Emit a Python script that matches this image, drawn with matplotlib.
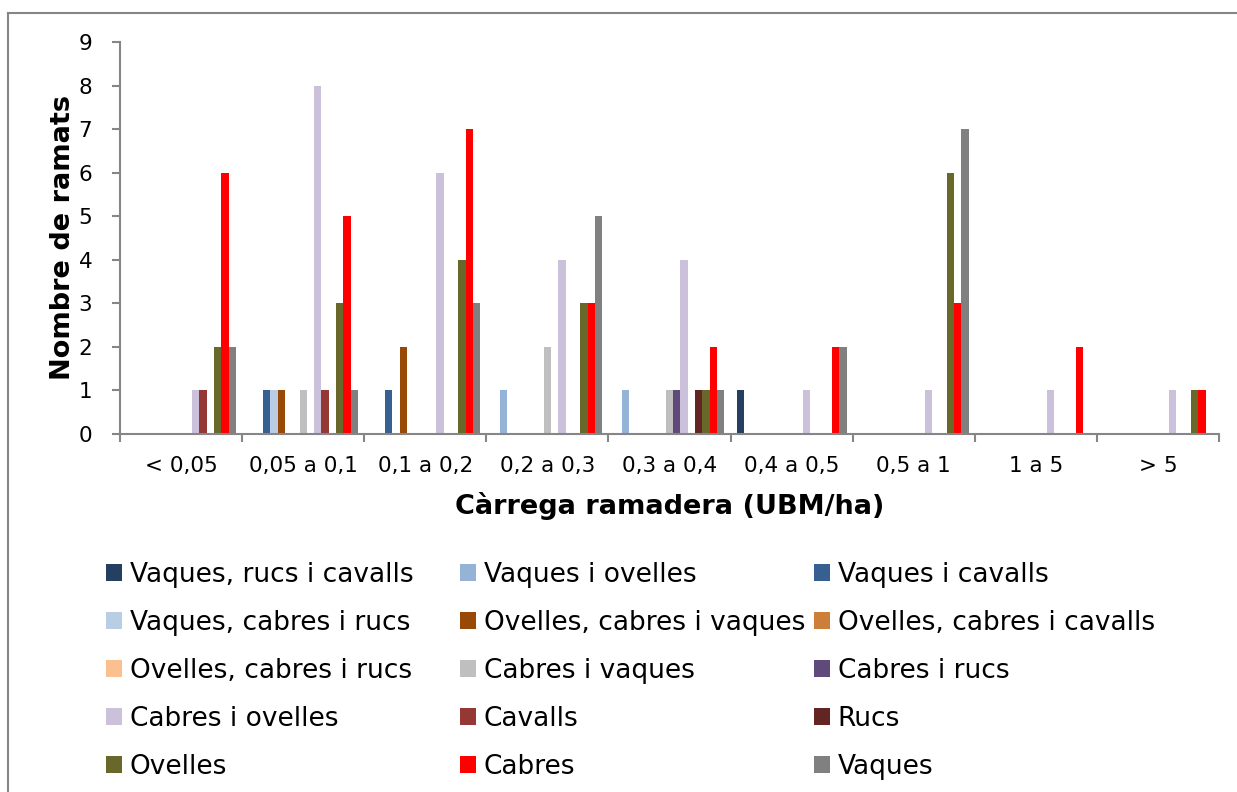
import numpy as np
import matplotlib
matplotlib.use("Agg")
import matplotlib.pyplot as plt
from matplotlib.patches import Patch
from matplotlib.lines import Line2D

# categories (UBM/ha classes)
categories = ["< 0,05", "0,05 a 0,1", "0,1 a 0,2", "0,2 a 0,3", "0,3 a 0,4",
              "0,4 a 0,5", "0,5 a 1", "1 a 5", "> 5"]

series_names = ["Vaques, rucs i cavalls", "Vaques i ovelles", "Vaques i cavalls",
                "Vaques, cabres i rucs", "Ovelles, cabres i vaques", "Ovelles, cabres i cavalls",
                "Ovelles, cabres i rucs", "Cabres i vaques", "Cabres i rucs",
                "Cabres i ovelles", "Cavalls", "Rucs",
                "Ovelles", "Cabres", "Vaques"]

# values per series, one per category
vaques_rucs_cavalls  = [0, 0, 0, 0, 0, 1, 0, 0, 0]
vaques_ovelles       = [0, 0, 0, 1, 1, 0, 0, 0, 0]
vaques_cavalls       = [0, 1, 1, 0, 0, 0, 0, 0, 0]
vaques_cabres_rucs   = [0, 1, 0, 0, 0, 0, 0, 0, 0]
ovelles_cabres_vaq   = [0, 1, 2, 0, 0, 0, 0, 0, 0]
ovelles_cabres_cav   = [0, 0, 0, 0, 0, 0, 0, 0, 0]
ovelles_cabres_rucs  = [0, 0, 0, 0, 0, 0, 0, 0, 0]
cabres_vaques        = [0, 1, 0, 2, 1, 0, 0, 0, 0]
cabres_rucs          = [0, 0, 0, 0, 1, 0, 0, 0, 0]
cabres_ovelles       = [1, 8, 6, 4, 4, 1, 1, 1, 1]
cavalls              = [1, 1, 0, 0, 0, 0, 0, 0, 0]
rucs                 = [0, 0, 0, 0, 1, 0, 0, 0, 0]
ovelles              = [2, 3, 4, 3, 1, 0, 6, 0, 1]
cabres               = [6, 5, 7, 3, 2, 2, 3, 2, 1]
vaques               = [2, 1, 3, 5, 1, 2, 7, 0, 0]

values = [vaques_rucs_cavalls, vaques_ovelles, vaques_cavalls, vaques_cabres_rucs,
          ovelles_cabres_vaq, ovelles_cabres_cav, ovelles_cabres_rucs, cabres_vaques,
          cabres_rucs, cabres_ovelles, cavalls, rucs, ovelles, cabres, vaques]

colors = ['#243F60', '#95B3D7', '#376092', '#B9CDE5', '#984807', '#CD7F3A',
          '#FAC090', '#BFBFBF', '#604A7B', '#CCC1DA', '#953735', '#632523',
          '#68682B', '#FF0000', '#808080']

plt.rcParams['font.family'] = ['DejaVu Sans']
axcol = '#868686'

fig = plt.figure(figsize=(12.37, 7.92), dpi=100)
ax = fig.add_axes([120/1237, 1-434/792, (1219-120)/1237, (434-42)/792])

n = len(series_names)
w = 0.9 / n
x = np.arange(len(categories))
for i in range(n):
    ax.bar(x - 0.45 + w*(i+0.5), values[i], width=w, color=colors[i], linewidth=0)

ax.set_xlim(-0.5, len(categories)-0.5)
ax.set_ylim(0, 9)
ax.set_yticks(range(0, 10))

# ticks between groups, labels centred
ax.set_xticks(np.arange(-0.5, len(categories)), minor=False)
ax.set_xticklabels([])
ax.set_xticks(x, minor=True)
ax.set_xticklabels(categories, minor=True, fontsize=15.5)
ax.tick_params(axis='x', which='major', length=6, direction='out', color=axcol, width=1.5)
ax.tick_params(axis='x', which='minor', length=0, pad=16)
ax.tick_params(axis='y', length=6, direction='out', color=axcol, width=1.5, labelsize=15.5, pad=14)

for s in ['top', 'right']:
    ax.spines[s].set_visible(False)
for s in ['left', 'bottom']:
    ax.spines[s].set_color(axcol)
    ax.spines[s].set_linewidth(1.5)

ax.set_xlabel("Càrrega ramadera (UBM/ha)", fontsize=19.5, fontweight='bold', va='center')
ax.xaxis.set_label_coords(0.5, (434-506)/392)
ax.set_ylabel("Nombre de ramats", fontsize=19.5, fontweight='bold', va='center')
ax.yaxis.set_label_coords((63-120)/1099, 0.5)

# legend: three columns, row-wise order as in Excel
col_x = [106/1237, 460/1237, 814/1237]
for c in range(3):
    handles = [Patch(facecolor=colors[k], edgecolor='none') for k in range(c, n, 3)]
    labels = [series_names[k] for k in range(c, n, 3)]
    leg = fig.legend(handles, labels, loc='upper left', bbox_to_anchor=(col_x[c], 1-562/792),
                     frameon=False, fontsize=19, handlelength=0.6, handleheight=0.6,
                     handletextpad=0.3, labelspacing=0.83, borderaxespad=0, borderpad=0)

# chart area border (left and top)
fig.add_artist(Line2D([8/1237, 8/1237], [0, 1-13/792], color=axcol, lw=1.5))
fig.add_artist(Line2D([8/1237, 1], [1-13/792, 1-13/792], color=axcol, lw=1.5))

fig.savefig("out.png", dpi=100)
